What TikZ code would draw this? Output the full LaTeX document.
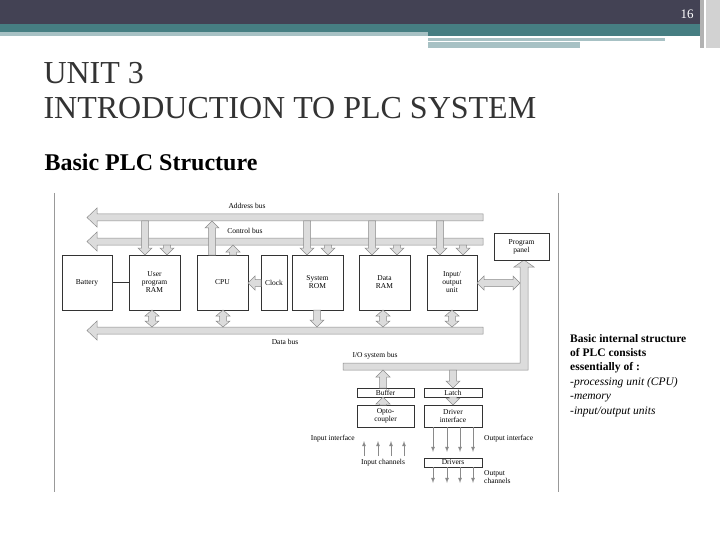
\documentclass[tikz,border=0pt]{standalone}
\usepackage{fontspec}
\setmainfont{Liberation Serif}
\usetikzlibrary{calc}
\definecolor{slate}{HTML}{434254}
\definecolor{teal1}{HTML}{467E82}
\definecolor{paleteal}{HTML}{A7C1C4}
\definecolor{busfill}{HTML}{DCDCDC}
\definecolor{busline}{HTML}{8A8A8A}
\tikzset{
  unit/.style={draw=black!80, thin, fill=white, inner sep=0pt, align=center, font=\fontsize{7.5}{8}\selectfont},
  lbl/.style={font=\fontsize{7.5}{8}\selectfont, inner sep=1pt},
  bus/.style={draw=busline, fill=busfill, line width=0.5pt},
  pin/.style={busline, line width=0.8pt, -{latex}},
}
% fat arrows (x, y1 start, y2 tip), y grows downwards
\newcommand{\fatv}[3]{\path[bus] ({#1-3.5},#2) -- ({#1-3.5},{#3-sign(#3-#2)*7}) -- ({#1-7},{#3-sign(#3-#2)*7}) -- (#1,#3) -- ({#1+7},{#3-sign(#3-#2)*7}) -- ({#1+3.5},{#3-sign(#3-#2)*7}) -- ({#1+3.5},#2) -- cycle;}
\newcommand{\fatvv}[3]{\path[bus] (#1,#2) -- ({#1+7},{#2+6}) -- ({#1+3.5},{#2+6}) -- ({#1+3.5},{#3-6}) -- ({#1+7},{#3-6}) -- (#1,#3) -- ({#1-7},{#3-6}) -- ({#1-3.5},{#3-6}) -- ({#1-3.5},{#2+6}) -- ({#1-7},{#2+6}) -- cycle;}
\newcommand{\fath}[3]{\path[bus] (#2,{#1-3.5}) -- ({#3+7},{#1-3.5}) -- ({#3+7},{#1-7}) -- (#3,#1) -- ({#3+7},{#1+7}) -- ({#3+7},{#1+3.5}) -- (#2,{#1+3.5}) -- cycle;}
\begin{document}
\begin{tikzpicture}[x=1pt,y=-1pt]
\useasboundingbox (0,0) rectangle (720,540);
% header bands
\fill[slate] (0,0) rectangle (700,24);
\fill[teal1] (0,24) rectangle (700,32);
\fill[paleteal] (0,32) rectangle (428,36);
\fill[teal1] (428,32) rectangle (700,36);
\fill[paleteal] (428,38) rectangle (665,41);
\fill[paleteal] (428,42) rectangle (580,48);
\fill[gray!60] (700,0) rectangle (704,48);
\fill[gray!35] (706,0) rectangle (720,48);
\node[white, font=\fontsize{13}{13}\selectfont] (pageno) at (687,14) {16};
% titles
\node[anchor=west, font=\fontsize{32}{35}\selectfont, text=black!80, align=left] (title) at (40,91) {UNIT 3\\INTRODUCTION TO PLC SYSTEM};
\node[anchor=west, font=\bfseries\fontsize{24}{24}\selectfont] (sub) at (41,162) {Basic PLC Structure};
% diagram frame
\draw[black!40, thin] (54,193) -- (54,492);
\draw[black!40, thin] (558,193) -- (558,492);
% buses
\path[bus] (483,214) -- (97,214) -- (97,208) -- (87,217.5) -- (97,227) -- (97,221) -- (483,221) -- cycle;
\path[bus] (483,238) -- (97,238) -- (97,232) -- (87,241.5) -- (97,251) -- (97,245) -- (483,245) -- cycle;
\path[bus] (483,327) -- (97,327) -- (97,321) -- (87,330.5) -- (97,340) -- (97,334) -- (483,334) -- cycle;
\path[bus] (343,363) -- (520,363) -- (520,267) -- (514,267) -- (524,260) -- (534,267) -- (528,267) -- (528,370) -- (343,370) -- cycle;
\node[lbl] (abus) at (247,206) {Address bus};
\node[lbl] (cbus) at (245,231) {Control bus};
\node[lbl] (dbus) at (285,342) {Data bus};
\node[lbl] (iobus) at (375,356) {I/O system bus};
% units
\node[unit, minimum width=50pt, minimum height=55pt] (bat) at (87,282.5) {Battery};
\node[unit, minimum width=51pt, minimum height=55pt] (uram) at (154.5,282.5) {User\\program\\RAM};
\node[unit, minimum width=51pt, minimum height=55pt] (cpu) at (222.5,282.5) {CPU};
\node[unit, minimum width=26pt, minimum height=55pt] (clk) at (274,282.5) {Clock};
\node[unit, minimum width=51pt, minimum height=55pt] (rom) at (317.5,282.5) {System\\ROM};
\node[unit, minimum width=51pt, minimum height=55pt] (dram) at (384.5,282.5) {Data\\RAM};
\node[unit, minimum width=50pt, minimum height=55pt] (iou) at (452,282.5) {Input/\\output\\unit};
\node[unit, minimum width=55pt, minimum height=27pt] (panel) at (521.5,246.5) {Program\\panel};
\draw[black!80] (bat) -- (uram);
% bus taps
\fatv{145}{221}{255} \fatv{167}{245}{255}
\fatv{212}{255}{221} \fatv{233}{255}{245}
\fatv{307}{221}{255} \fatv{328}{245}{255}
\fatv{372}{221}{255} \fatv{397}{245}{255}
\fatv{440}{221}{255} \fatv{463}{245}{255}
\fath{283}{261}{248}
\path[bus] (477,283) -- (484,276) -- (484,279.5) -- (513,279.5) -- (513,276) -- (520,283) -- (513,290) -- (513,286.5) -- (484,286.5) -- (484,290) -- cycle;
\fatvv{152}{310}{327} \fatvv{223}{310}{327} \fatv{317}{310}{327}
\fatvv{383}{310}{327} \fatvv{452}{310}{327}
% I/O section
\node[unit, minimum width=57pt, minimum height=9pt] (buf) at (385.5,392.5) {Buffer};
\node[unit, minimum width=58pt, minimum height=9pt] (latch) at (453,392.5) {Latch};
\node[unit, minimum width=57pt, minimum height=22pt] (opto) at (385.5,416) {Opto-\\coupler};
\node[unit, minimum width=58pt, minimum height=22pt] (drv) at (453,416) {Driver\\interface};
\node[unit, minimum width=58pt, minimum height=9pt] (drvs) at (453,462.5) {Drivers};
\fatv{383}{388}{370} \fatv{383}{405}{397}
\fatv{453}{370}{388} \fatv{453}{397}{405}
\node[lbl, anchor=east] (inif) at (356,439) {Input interface};
\node[lbl, anchor=west] (outif) at (483,439) {Output interface};
\node[lbl] (inch) at (383,463) {Input channels};
\node[lbl, anchor=west, align=left] (outch) at (483,477) {Output\\channels};
\foreach \x [count=\i] in {364,378,391,404} {
  \coordinate (ia\i) at (\x,456);
  \coordinate (ib\i) at (\x,441);
  \draw[pin] (ia\i) -- (ib\i);
  \coordinate (oa\i) at ({\x+69},427);
  \coordinate (ob\i) at ({\x+69},452);
  \draw[pin] (oa\i) -- (ob\i);
  \coordinate (oc\i) at ({\x+69},467);
  \coordinate (od\i) at ({\x+69},483);
  \draw[pin] (oc\i) -- (od\i);
}
% side text
\node[anchor=north west, align=left, inner sep=0pt, font=\fontsize{11.5}{14.4}\selectfont] (note) at (570,334)
  {\textbf{Basic internal structure}\\\textbf{of PLC consists}\\\textbf{essentially of :}\\\textit{-processing unit (CPU)}\\\textit{-memory}\\\textit{-input/output units}};
\end{tikzpicture}
\end{document}
